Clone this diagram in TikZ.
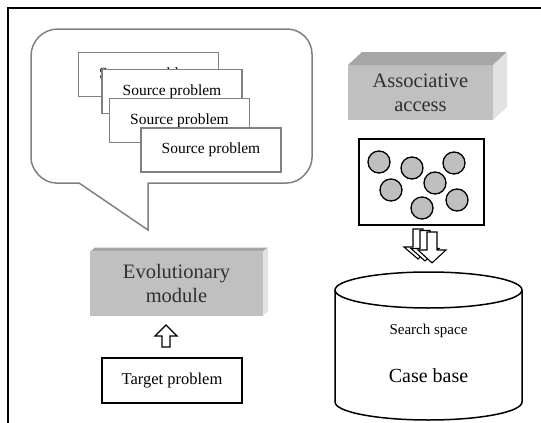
\documentclass[tikz,border=0pt]{standalone}
\usepackage{fontspec}
\setmainfont{Liberation Serif}
\definecolor{edgegray}{HTML}{808080}
\definecolor{frontgray}{HTML}{C0C0C0}
\definecolor{topgray}{HTML}{A6A6A6}
\definecolor{sidegray}{HTML}{E2E2E2}
\definecolor{ballgray}{HTML}{BFBFBF}
\definecolor{txtgray}{HTML}{303030}
\begin{document}
\begin{tikzpicture}[x=1pt,y=-1pt,line join=miter,
  srcbox/.style={draw=edgegray,line width=1.4pt,fill=white,minimum width=140pt,minimum height=44pt,inner sep=0pt,outer sep=0pt,font=\fontsize{15.5}{18}\selectfont},
  front/.style={fill=frontgray,inner sep=0pt,outer sep=0pt,align=center,text=txtgray,font=\fontsize{20.5}{24}\selectfont},
  ball/.style={circle,draw=black,line width=1.3pt,fill=ballgray,minimum size=22pt,inner sep=0pt},
  blockarrow/.style={draw=black,line width=1.3pt,fill=white},
  plainbox/.style={draw=black,line width=1.6pt,fill=white,inner sep=0pt,outer sep=0pt}]
\useasboundingbox (0,0) rectangle (541,423);
% frame
\draw[line width=1.8pt] (8,423) -- (8,8) -- (541,8);
% speech bubble
\draw[draw=edgegray,line width=1.5pt,fill=white]
  (148,183) -- (287,183) .. controls (300.8,183) and (312,169.2) .. (312,158)
  -- (312,54) .. controls (312,40.2) and (300.8,29) .. (287,29)
  -- (58,29) .. controls (43,29) and (31,41) .. (31,56)
  -- (31,158) .. controls (31,169.2) and (42.2,183) .. (56,183)
  -- (79,183) -- (148,230) -- cycle;
% source problems
\node[srcbox] (s1) at (148.5,74.5) {Source problem};
\node[srcbox] (s2) at (172,91.5) {Source problem};
\node[srcbox] (s3) at (179.5,120.5) {Source problem};
\node[srcbox] (s4) at (211,150) {Source problem};
% evolutionary module
\node[front,minimum width=173pt,minimum height=64pt] (evo) at (176.5,283.5) {Evolutionary\\module};
\fill[topgray] (evo.north west) -- ++(5,-4) -- ++(173,0) -- (evo.north east) -- cycle;
\fill[sidegray] (evo.north east) -- ++(5,-4) -- ++(0,64) -- (evo.south east) -- cycle;
% target
\node[plainbox,minimum width=140pt,minimum height=45pt,font=\fontsize{16.5}{19}\selectfont] (target) at (172,380.5) {Target problem};
% up arrow
\draw[blockarrow] (166,325) -- (177,336) -- (170,336) -- (170,347) -- (162,347) -- (162,336) -- (155,336) -- cycle;
% associative access
\node[front,minimum width=145pt,minimum height=55pt] (assoc) at (420.5,92.5) {Associative\\access};
\fill[topgray] (assoc.north west) -- ++(14,-13) -- ++(145,0) -- (assoc.north east) -- cycle;
\fill[sidegray] (assoc.north east) -- ++(14,-13) -- ++(0,55) -- (assoc.south east) -- cycle;
% circles box
\node[plainbox,line width=2pt,minimum width=125pt,minimum height=86pt] (pool) at (421.5,182) {};
\node[ball] (b1) at (379,162) {};
\node[ball] (b2) at (412,168) {};
\node[ball] (b3) at (454,163) {};
\node[ball] (b4) at (391,190) {};
\node[ball] (b5) at (435,183) {};
\node[ball] (b6) at (422,208) {};
\node[ball] (b7) at (457,200) {};
% down arrows
\foreach \cx/\dy in {418/0,425/1.5,432/3}{
  \draw[blockarrow,line width=1.1pt] (\cx-5,229+\dy) -- (\cx+5,229+\dy) -- (\cx+5,247+\dy) -- (\cx+14,247+\dy)
    -- (\cx,259+\dy*1.3) -- (\cx-14,247+\dy) -- (\cx-5,247+\dy) -- cycle;
}
% case base cylinder
\draw[line width=1.5pt,fill=white] (335,290) -- (335,402) .. controls (335,411.94) and (376.9,420) .. (428.5,420)
  .. controls (480.1,420) and (522,411.94) .. (522,402) -- (522,290);
\draw[line width=1.5pt] (428.5,290) ellipse [x radius=93.5, y radius=18];
\node[font=\fontsize{15}{18}\selectfont] (search) at (428.5,331) {Search space};
\node[font=\fontsize{20}{24}\selectfont] (casebase) at (428.5,376) {Case base};
\end{tikzpicture}
\end{document}
